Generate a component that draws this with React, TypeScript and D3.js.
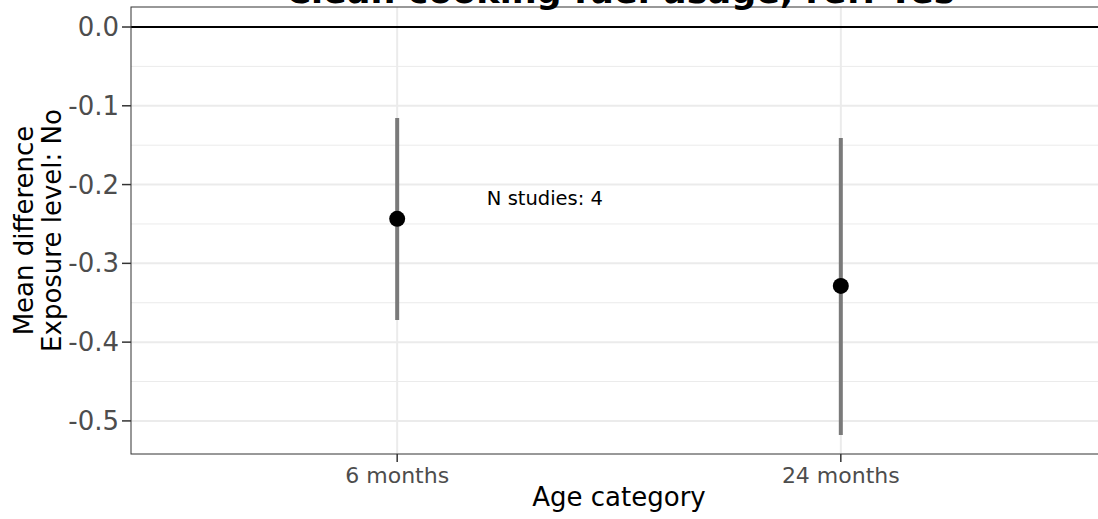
import React from "react";
import * as d3 from "d3";

const categories = ["6 months", "24 months"];
const estimates = [-0.2435, -0.3287];
const lowerCI = [-0.372, -0.518];
const upperCI = [-0.1155, -0.141];
const yTicks = [0.0, -0.1, -0.2, -0.3, -0.4, -0.5];
const yMinor = [-0.05, -0.15, -0.25, -0.35, -0.45];
const annotation = { text: "N studies: 4", x: 1.333, y: -0.218 };
const title = "Clean cooking fuel usage, ref: Yes";

export default function App() {
  const W = 1098, H = 519;
  const left = 131, top = 7, bottom = 454, right = 1107;
  const y = d3.scaleLinear().domain([0.0254, -0.542]).range([top, bottom]);
  const x = d3.scaleLinear().domain([0.4, 2.6]).range([left, right]);
  const font = "'DejaVu Sans', sans-serif";
  const fmt = (t: number) => d3.format(".1f")(t).replace("\u2212", "-");
  return (
    <svg width={W} height={H} style={{ position: "absolute", left: 0, top: 0, background: "#fff" }} fontFamily={font}>
      <rect x={0} y={0} width={W} height={H} fill="#fff" />
      {yMinor.map((t) => (
        <line key={"m" + t} x1={left} x2={right} y1={y(t)} y2={y(t)} stroke="#ebebeb" strokeWidth={1} />
      ))}
      {yTicks.map((t) => (
        <line key={"g" + t} x1={left} x2={right} y1={y(t)} y2={y(t)} stroke="#ebebeb" strokeWidth={2} />
      ))}
      {categories.map((c, i) => (
        <line key={"v" + c} x1={x(i + 1)} x2={x(i + 1)} y1={top} y2={bottom} stroke="#ebebeb" strokeWidth={2} />
      ))}
      <line x1={left} x2={right} y1={y(0)} y2={y(0)} stroke="#000" strokeWidth={2} />
      {categories.map((c, i) => (
        <g key={"e" + c}>
          <line x1={x(i + 1)} x2={x(i + 1)} y1={y(upperCI[i])} y2={y(lowerCI[i])} stroke="#7a7a7a" strokeWidth={4} />
          <circle cx={x(i + 1)} cy={y(estimates[i])} r={8} fill="#000" />
        </g>
      ))}
      <text x={x(annotation.x)} y={y(annotation.y)} textAnchor="middle" fontSize={19.5} fill="#000" dominantBaseline="central">
        {annotation.text}
      </text>
      <rect x={left} y={top} width={right - left} height={bottom - top} fill="none" stroke="#333" strokeWidth={1} />
      {yTicks.map((t) => (
        <g key={"t" + t}>
          <line x1={left - 9} x2={left} y1={y(t)} y2={y(t)} stroke="#333" strokeWidth={1.5} />
          <text x={left - 12} y={y(t)} textAnchor="end" dominantBaseline="central" fontSize={26} fill="#4d4d4d">
            {fmt(t)}
          </text>
        </g>
      ))}
      {categories.map((c, i) => (
        <g key={"xt" + c}>
          <line x1={x(i + 1)} x2={x(i + 1)} y1={bottom} y2={bottom + 8} stroke="#333" strokeWidth={1.5} />
          <text x={x(i + 1)} y={bottom + 21} textAnchor="middle" dominantBaseline="central" fontSize={22} fill="#4d4d4d">
            {c}
          </text>
        </g>
      ))}
      <text x={619} y={497} textAnchor="middle" dominantBaseline="central" fontSize={26} fill="#000">
        Age category
      </text>
      <g transform={`translate(24, ${(top + bottom) / 2}) rotate(-90)`}>
        <text x={0} y={0} textAnchor="middle" dominantBaseline="central" fontSize={26} fill="#000">Mean difference</text>
        <text x={0} y={28} textAnchor="middle" dominantBaseline="central" fontSize={26} fill="#000">Exposure level: No</text>
      </g>
      <text x={620} y={3} textAnchor="middle" fontSize={35} fontWeight="bold" fill="#000">
        {title}
      </text>
    </svg>
  );
}
